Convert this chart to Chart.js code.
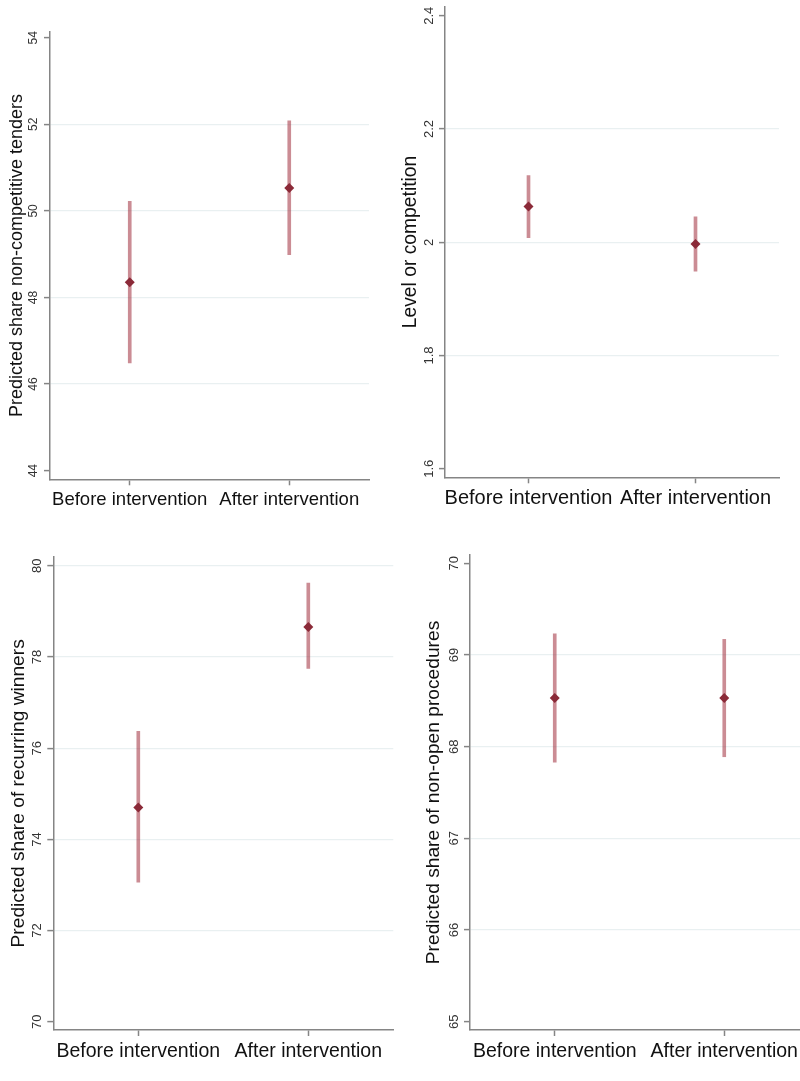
<!DOCTYPE html>
<html>
<head>
<meta charset="utf-8">
<script src="https://cdn.jsdelivr.net/npm/chart.js@4.4.1/dist/chart.umd.min.js"></script>
<style>
  html, body { margin: 0; padding: 0; background: #ffffff; overflow: hidden; }
  body { width: 800px; height: 1081px; position: relative; }
  canvas { position: absolute; }
</style>
</head>
<body>
<canvas id="c1" width="400" height="540" style="left:0px;top:0px"></canvas>
<canvas id="c2" width="400" height="540" style="left:400px;top:0px"></canvas>
<canvas id="c3" width="400" height="541" style="left:0px;top:540px"></canvas>
<canvas id="c4" width="420" height="541" style="left:400px;top:540px"></canvas>
<script>
// Categories shared by all four panels
const categories = ['Before intervention', 'After intervention'];

// Panel 1: predicted share of non-competitive tenders (point estimate and 95% CI)
const tendersEst = [48.35, 50.53];
const tendersLo  = [46.49, 48.99];
const tendersHi  = [50.22, 52.08];
const tendersTicks = [44, 46, 48, 50, 52, 54];
const tendersTickLabels = ['44', '46', '48', '50', '52', '54'];

// Panel 2: level of competition
const competitionEst = [2.063, 1.997];
const competitionLo  = [2.008, 1.949];
const competitionHi  = [2.118, 2.045];
const competitionTicks = [1.6, 1.8, 2.0, 2.2, 2.4];
const competitionTickLabels = ['1.6', '1.8', '2', '2.2', '2.4'];

// Panel 3: predicted share of recurring winners
const winnersEst = [74.70, 78.66];
const winnersLo  = [73.06, 77.75];
const winnersHi  = [76.37, 79.62];
const winnersTicks = [70, 72, 74, 76, 78, 80];
const winnersTickLabels = ['70', '72', '74', '76', '78', '80'];

// Panel 4: predicted share of non-open procedures
const nonOpenEst = [68.53, 68.53];
const nonOpenLo  = [67.83, 67.89];
const nonOpenHi  = [69.23, 69.17];
const nonOpenTicks = [65, 66, 67, 68, 69, 70];
const nonOpenTickLabels = ['65', '66', '67', '68', '69', '70'];

const AXIS_COLOR = '#858585';
const GRID_COLOR = '#e9f0f1';
const CI_COLOR = 'rgba(160, 45, 60, 0.55)';
const POINT_COLOR = '#8b2a38';
const FONT = '"Liberation Sans", Arial, Helvetica, sans-serif';

// Rotated y tick labels and y title, placed through the chart's own y scale
const sideLabels = {
  id: 'sideLabels',
  afterDraw(chart) {
    const o = chart.options.plugins.sideLabels;
    if (!o) return;
    const ctx = chart.ctx;
    const y = chart.scales.y;
    const area = chart.chartArea;
    ctx.save();
    ctx.textAlign = 'center';
    ctx.textBaseline = 'middle';
    ctx.fillStyle = '#333333';
    ctx.font = o.tickFont + 'px ' + FONT;
    o.ticks.forEach((v, i) => {
      const py = y.getPixelForValue(v);
      ctx.save();
      ctx.translate(area.left - o.tickGap, py);
      ctx.rotate(-Math.PI / 2);
      ctx.fillText(o.tickLabels[i], 0, 0);
      ctx.restore();
    });
    ctx.fillStyle = '#111111';
    ctx.font = o.titleFont + 'px ' + FONT;
    ctx.translate(o.titleX, (area.top + area.bottom) / 2);
    ctx.rotate(-Math.PI / 2);
    ctx.fillText(o.title, 0, 0);
    ctx.restore();
  }
};

function makePanel(id, geo, est, lo, hi, ticks, tickLabels, title, gridOn) {
  const ctx = document.getElementById(id).getContext('2d');
  return new Chart(ctx, {
    type: 'bar',
    data: {
      labels: categories,
      datasets: [
        {
          type: 'line',
          data: est,
          showLine: false,
          pointStyle: 'rectRot',
          pointRadius: geo.pointR,
          pointBackgroundColor: POINT_COLOR,
          pointBorderColor: POINT_COLOR,
          pointBorderWidth: 0,
          order: 1
        },
        {
          type: 'bar',
          data: lo.map((v, i) => [v, hi[i]]),
          backgroundColor: CI_COLOR,
          borderWidth: 0,
          barThickness: 3,
          order: 2
        }
      ]
    },
    options: {
      responsive: false,
      animation: false,
      devicePixelRatio: 1,
      layout: { padding: { left: 0, right: geo.padRight, top: geo.padTop, bottom: geo.padBottom } },
      plugins: {
        legend: { display: false },
        tooltip: { enabled: false },
        sideLabels: {
          ticks: ticks, tickLabels: tickLabels, title: title,
          tickFont: geo.tickFont, titleFont: geo.titleFont,
          titleX: geo.titleX, tickGap: 16
        }
      },
      scales: {
        x: {
          type: 'category',
          offset: true,
          grid: {
            offset: false,
            drawOnChartArea: false,
            drawTicks: true,
            tickLength: 6,
            tickColor: AXIS_COLOR,
            tickWidth: 1.5
          },
          border: { display: true, color: AXIS_COLOR, width: 1.5 },
          ticks: {
            color: '#111111',
            padding: geo.xPad,
            maxRotation: 0,
            minRotation: 0,
            autoSkip: false,
            font: { family: FONT, size: geo.xFont }
          },
          afterFit(scale) { scale.height = 50; }
        },
        y: {
          type: 'linear',
          min: geo.min,
          max: geo.max,
          afterBuildTicks(scale) { scale.ticks = ticks.map(v => ({ value: v })); },
          grid: {
            color: (c) => (c.tick && gridOn.includes(c.tick.value)) ? GRID_COLOR : 'rgba(0,0,0,0)',
            lineWidth: 1.2,
            drawTicks: true,
            tickLength: 6,
            tickColor: AXIS_COLOR,
            tickWidth: 1.5
          },
          border: { display: true, color: AXIS_COLOR, width: 1.5 },
          ticks: { display: false },
          afterFit(scale) { scale.width = geo.yWidth; }
        }
      }
    },
    plugins: [sideLabels]
  });
}

// Panel 1 (top left)
makePanel('c1',
  { min: 43.8, max: 54.14, yWidth: 50, padRight: 31, padTop: 31.7, padBottom: 10.7,
    tickFont: 12, titleFont: 18, titleX: 17, xFont: 18.5, xPad: 4, pointR: 5 },
  tendersEst, tendersLo, tendersHi, tendersTicks, tendersTickLabels,
  'Predicted share non-competitive tenders', [46, 48, 50, 52]);

// Panel 2 (top right)
makePanel('c2',
  { min: 1.585, max: 2.416, yWidth: 45, padRight: 21, padTop: 6.7, padBottom: 12.7,
    tickFont: 13, titleFont: 19.3, titleX: 11, xFont: 20, xPad: 3, pointR: 5 },
  competitionEst, competitionLo, competitionHi, competitionTicks, competitionTickLabels,
  'Level or competition', [1.8, 2.0, 2.2]);

// Panel 3 (bottom left)
makePanel('c3',
  { min: 69.82, max: 80.2, yWidth: 53.3, padRight: 6.7, padTop: 16.7, padBottom: 1,
    tickFont: 13, titleFont: 19.2, titleX: 19, xFont: 19.5, xPad: 4, pointR: 5 },
  winnersEst, winnersLo, winnersHi, winnersTicks, winnersTickLabels,
  'Predicted share of recurring winners', [72, 74, 76, 78, 80]);

// Panel 4 (bottom right, runs past the page edge)
makePanel('c4',
  { min: 64.91, max: 70.09, yWidth: 70, padRight: 11, padTop: 15, padBottom: 1,
    tickFont: 13, titleFont: 19.2, titleX: 34, xFont: 19.5, xPad: 4, pointR: 5 },
  nonOpenEst, nonOpenLo, nonOpenHi, nonOpenTicks, nonOpenTickLabels,
  'Predicted share of non-open procedures', [66, 67, 68, 69]);
</script>
</body>
</html>
